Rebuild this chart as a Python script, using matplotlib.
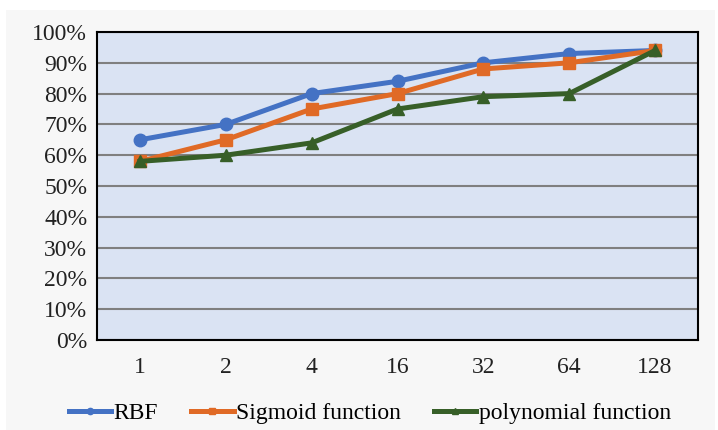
import matplotlib.pyplot as plt
from matplotlib.patches import Rectangle
from matplotlib.ticker import PercentFormatter

categories = ['1', '2', '4', '16', '32', '64', '128']
rbf = [65, 70, 80, 84, 90, 93, 94]
sigmoid = [58, 65, 75, 80, 88, 90, 94]
polynomial = [58, 60, 64, 75, 79, 80, 94]

plt.rcParams['font.family'] = ['Liberation Serif', 'DejaVu Serif']

fig = plt.figure(figsize=(7.18, 4.3), dpi=100, facecolor='white')
fig.patches.append(Rectangle((6 / 718, 0), 709 / 718, 420 / 430,
                             transform=fig.transFigure, facecolor='#f7f7f7',
                             edgecolor='none', zorder=-10))
ax = fig.add_axes([97 / 718, 90 / 430, 601 / 718, 308 / 430])
ax.set_facecolor('#dae3f3')

x = range(len(categories))
ax.plot(x, rbf, color='#4472c4', lw=3.6, marker='o', ms=9, label='RBF', zorder=3)
ax.plot(x, sigmoid, color='#e06a26', lw=3.6, marker='s', ms=9, label='Sigmoid function', zorder=4)
ax.plot(x, polynomial, color='#375f28', lw=3.6, marker='^', ms=9, label='polynomial function', zorder=5)

ax.set_xlim(-0.5, len(categories) - 0.5)
ax.set_ylim(0, 100)
ax.set_yticks(range(0, 101, 10))
ax.yaxis.set_major_formatter(PercentFormatter(decimals=0))
ax.set_xticks(list(x))
ax.set_xticklabels(categories)
ax.tick_params(length=0, labelsize=17, colors='#222222')
ax.tick_params(axis='x', pad=12)
ax.tick_params(axis='y', pad=7)
ax.grid(axis='y', color='#7f7f7f', lw=1.5)
ax.set_axisbelow(True)
for s in ax.spines.values():
    s.set_color('black')
    s.set_linewidth(1.5)

fig.legend(loc='lower center', bbox_to_anchor=(0.515, -0.035), ncol=3, frameon=False,
           fontsize=17, handlelength=1.8, handletextpad=0.1, columnspacing=1.4,
           markerscale=0.5)

fig.savefig('out.png', dpi=100, facecolor=fig.get_facecolor())
